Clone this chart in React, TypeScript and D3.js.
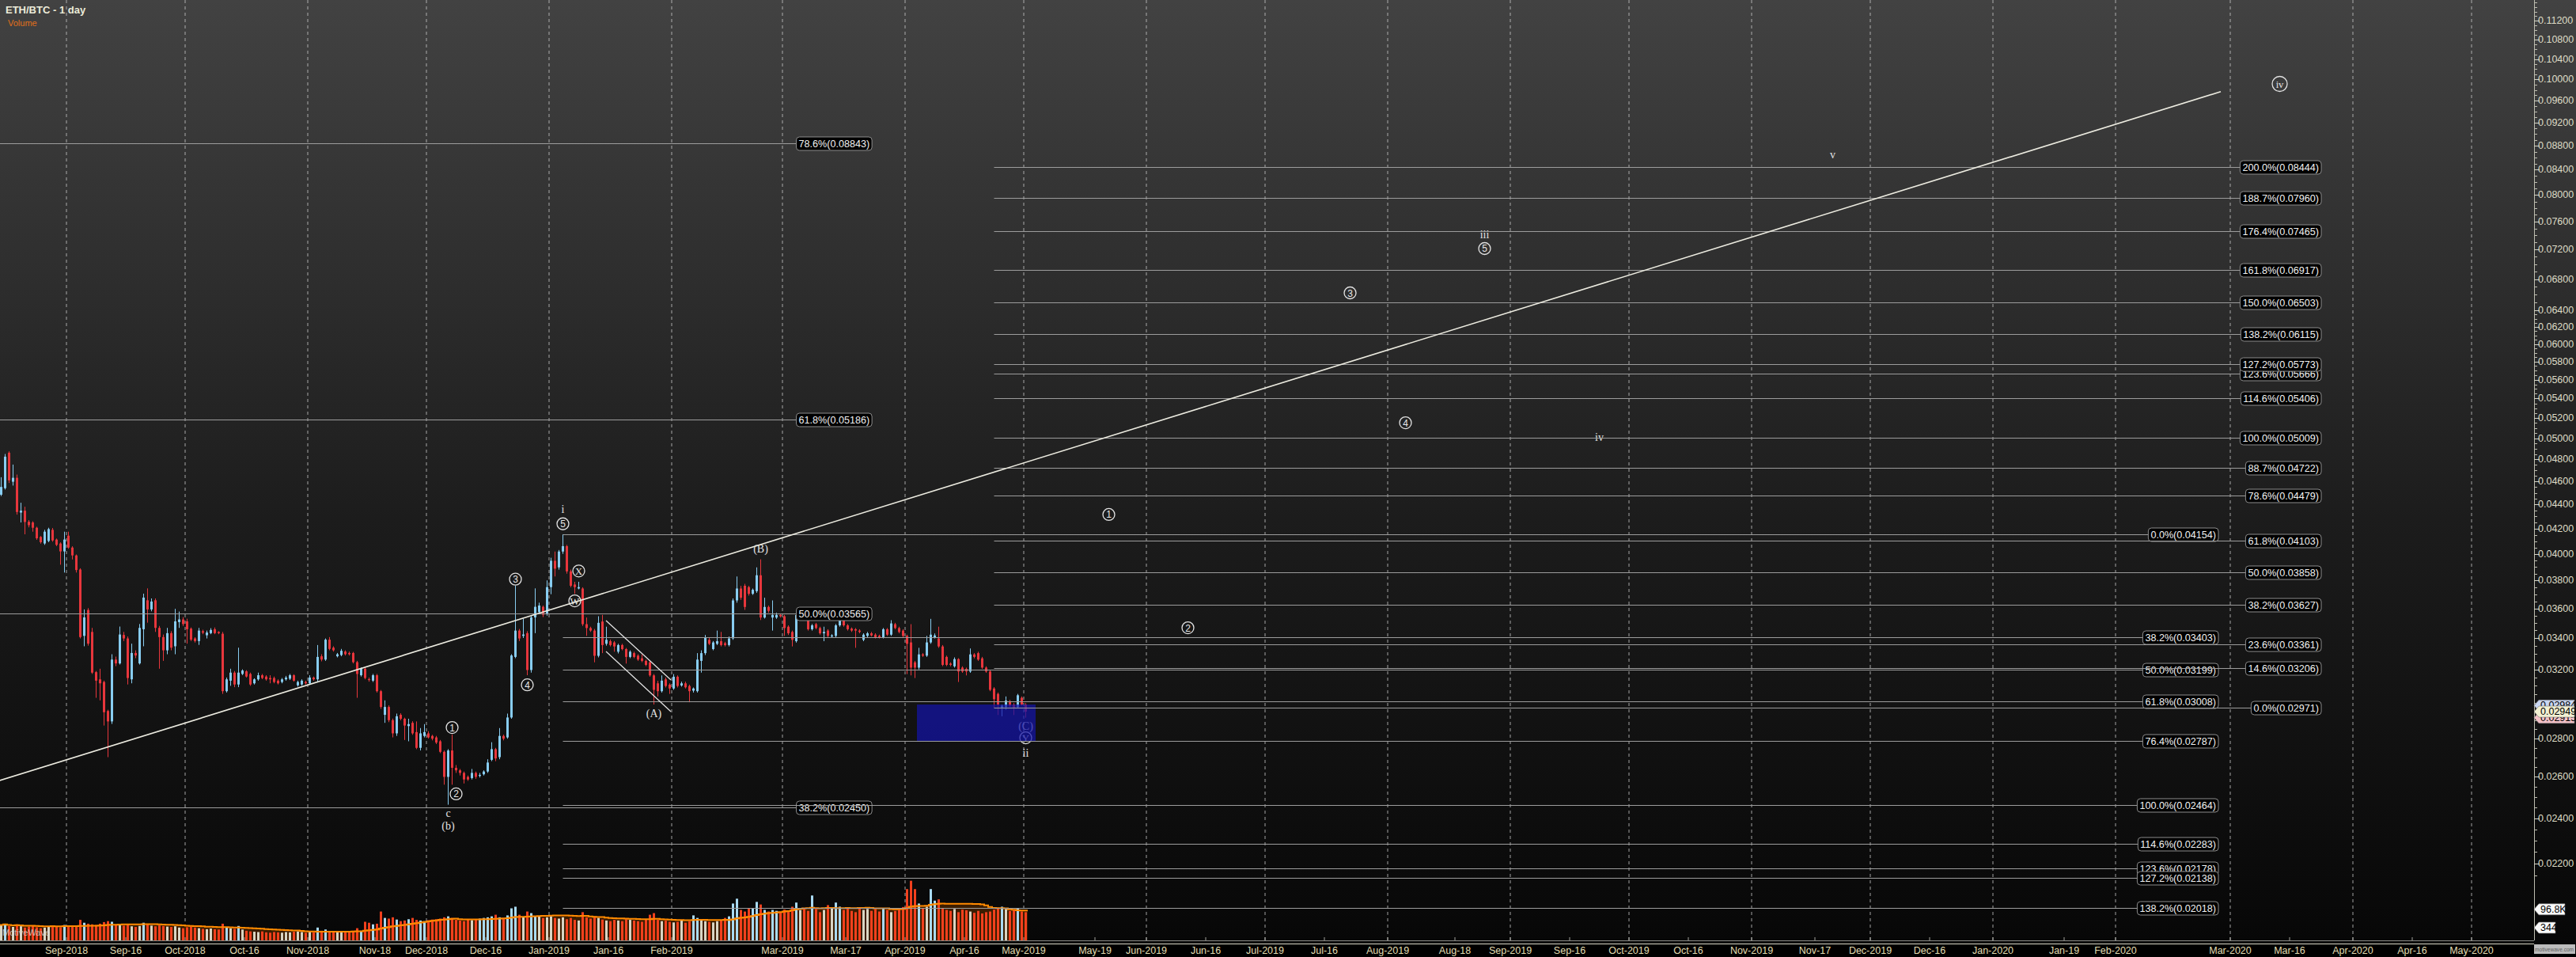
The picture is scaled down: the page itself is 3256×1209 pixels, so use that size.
import { useEffect, useRef } from "react";
import * as d3 from "d3";

// ── Frame ─────────────────────────────────────────────────────────────────────
const WIDTH = 3256;
const HEIGHT = 1209;
const PLOT_RIGHT = 3203;
const PANE_BOTTOM = 1188;
const AXIS_TOP = 1192;

const SANS = "'Liberation Sans', Arial, sans-serif";
const SERIF = "'Liberation Serif', 'Times New Roman', serif";

// ── Daily bars [open, high, low, close], first bar on FIRST_DAY ──────────────
const FIRST_DAY = "2018-08-15";

const aug2018 = [
  [.04484, .04638, .04472, .04552], [.04541, .04851, .04529, .04826], [.04863, .04876, .04587, .04610],
  [.04598, .04753, .04564, .04633], [.04633, .04662, .04315, .04337], [.04332, .04415, .04250, .04348],
  [.04348, .04381, .04154, .04254], [.04256, .04270, .04210, .04228], [.04250, .04260, .04175, .04207],
  [.04207, .04215, .04110, .04122], [.04133, .04140, .04080, .04091], [.04081, .04190, .04070, .04175],
  [.04101, .04207, .04091, .04196], [.04190, .04205, .04095, .04105], [.04112, .04120, .04060, .04070],
  [.04081, .04090, .03917, .04019], [.04019, .04175, .03858, .04112],
];
const sep2018 = [
  [.04143, .04175, .04040, .04049], [.04049, .04059, .03957, .03988], [.03988, .03995, .03858, .03877],
  [.03881, .03890, .03397, .03406], [.03414, .03593, .03346, .03538], [.03589, .03602, .03350, .03363],
  [.03440, .03467, .03172, .03180], [.03183, .03190, .03029, .03131], [.03139, .03204, .03014, .03115],
  [.03123, .03131, .02871, .02946], [.02953, .02960, .02701, .02894], [.02894, .03295, .02880, .03261],
  [.03261, .03280, .03220, .03237], [.03237, .03476, .03230, .03423], [.03420, .03440, .03380, .03397],
  [.03397, .03410, .03108, .03147], [.03139, .03363, .03115, .03303], [.03303, .03320, .03270, .03287],
  [.03237, .03493, .03230, .03467], [.03458, .03704, .03346, .03676], [.03657, .03742, .03502, .03593],
  [.03593, .03670, .03580, .03648], [.03657, .03670, .03440, .03467], [.03467, .03480, .03204, .03406],
  [.03406, .03423, .03253, .03320], [.03320, .03467, .03295, .03432], [.03432, .03445, .03320, .03337],
  [.03346, .03597, .03295, .03511], [.03506, .03578, .03467, .03524], [.03524, .03540, .03480, .03493],
];
const oct2018 = [
  [.03511, .03529, .03363, .03458], [.03462, .03470, .03380, .03389], [.03397, .03405, .03370, .03380],
  [.03380, .03467, .03355, .03449], [.03445, .03455, .03425, .03435], [.03418, .03449, .03397, .03436],
  [.03432, .03465, .03425, .03453], [.03458, .03470, .03425, .03432], [.03440, .03445, .03425, .03432],
  [.03428, .03440, .03052, .03068], [.03068, .03150, .03060, .03139], [.03131, .03204, .03100, .03180],
  [.03180, .03190, .03092, .03108], [.03108, .03337, .03092, .03180], [.03172, .03200, .03165, .03193],
  [.03188, .03195, .03150, .03156], [.03172, .03180, .03100, .03108], [.03115, .03145, .03108, .03139],
  [.03139, .03180, .03131, .03164], [.03164, .03172, .03140, .03147], [.03156, .03164, .03131, .03139],
  [.03147, .03164, .03115, .03139], [.03147, .03156, .03115, .03123], [.03131, .03139, .03108, .03115],
  [.03123, .03147, .03115, .03139], [.03139, .03160, .03131, .03150], [.03143, .03172, .03135, .03164],
  [.03164, .03170, .03125, .03131], [.03103, .03131, .03095, .03123], [.03108, .03139, .03100, .03131],
  [.03123, .03131, .03108, .03115],
];
const nov2018 = [
  [.03115, .03164, .03108, .03150], [.03150, .03156, .03131, .03139], [.03139, .03354, .03123, .03278],
  [.03282, .03295, .03250, .03261], [.03261, .03397, .03253, .03389], [.03389, .03406, .03320, .03329],
  [.03337, .03346, .03312, .03320], [.03282, .03303, .03275, .03295], [.03290, .03329, .03282, .03317],
  [.03312, .03320, .03287, .03295], [.03303, .03312, .03287, .03295], [.03303, .03310, .03237, .03245],
  [.03245, .03253, .03029, .03172], [.03164, .03212, .03156, .03204], [.03204, .03212, .03139, .03147],
  [.03140, .03150, .03125, .03135], [.03131, .03172, .03123, .03164], [.03164, .03172, .03060, .03068],
  [.03068, .03075, .02965, .02976], [.02931, .03014, .02886, .02976], [.02976, .02985, .02890, .02901],
  [.02901, .02910, .02806, .02828], [.02828, .02938, .02814, .02923], [.02931, .02940, .02900, .02909],
  [.02909, .02915, .02792, .02871], [.02868, .02909, .02785, .02879], [.02886, .02895, .02820, .02828],
  [.02835, .02894, .02743, .02750], [.02750, .02857, .02736, .02828], [.02814, .02879, .02806, .02835],
];
const dec2018 = [
  [.02828, .02840, .02800, .02806], [.02814, .02820, .02790, .02799], [.02806, .02814, .02770, .02778],
  [.02785, .02792, .02722, .02729], [.02729, .02736, .02561, .02600], [.02600, .02743, .02464, .02736],
  [.02736, .02821, .02561, .02646], [.02646, .02660, .02620, .02633], [.02633, .02640, .02607, .02620],
  [.02620, .02627, .02567, .02587], [.02600, .02607, .02580, .02587], [.02594, .02640, .02587, .02620],
  [.02620, .02627, .02590, .02600], [.02605, .02620, .02597, .02610], [.02613, .02633, .02607, .02627],
  [.02627, .02690, .02620, .02673], [.02687, .02780, .02680, .02743], [.02743, .02750, .02680, .02694],
  [.02701, .02857, .02690, .02814], [.02814, .02821, .02790, .02799], [.02806, .02938, .02799, .02916],
  [.02916, .03295, .02909, .03287], [.03278, .03761, .03270, .03449], [.03449, .03460, .03380, .03397],
  [.03414, .03529, .03400, .03423], [.03432, .03445, .03164, .03196], [.03196, .03550, .03180, .03538],
  [.03538, .03742, .03432, .03611], [.03575, .03640, .03560, .03620], [.03611, .03620, .03540, .03556],
  [.03565, .03800, .03550, .03751],
];
const jan2019 = [
  [.03751, .03970, .03700, .03947], [.03947, .04018, .03829, .03887], [.03897, .04030, .03880, .04018],
  [.04018, .04154, .04000, .04060], [.04060, .04070, .03850, .03867], [.03867, .03880, .03750, .03761],
  [.03770, .03790, .03703, .03751], [.03741, .03790, .03735, .03751], [.03741, .03750, .03480, .03492],
  [.03492, .03537, .03414, .03466], [.03466, .03475, .03440, .03449], [.03449, .03460, .03244, .03285],
  [.03285, .03546, .03275, .03501], [.03510, .03555, .03302, .03354], [.03362, .03475, .03350, .03388],
  [.03379, .03390, .03345, .03354], [.03371, .03380, .03311, .03345], [.03311, .03362, .03300, .03354],
  [.03354, .03362, .03320, .03328], [.03328, .03335, .03236, .03278], [.03278, .03320, .03270, .03311],
  [.03302, .03311, .03270, .03278], [.03286, .03295, .03253, .03261], [.03269, .03294, .03245, .03253],
  [.03253, .03261, .03220, .03228], [.03244, .03253, .03155, .03163], [.03163, .03171, .02990, .03076],
  [.03115, .03130, .03037, .03068], [.03068, .03163, .03060, .03131], [.03139, .03150, .03090, .03099],
  [.03107, .03115, .03052, .03084],
];
const feb2019 = [
  [.03084, .03171, .03076, .03155], [.03155, .03163, .03090, .03099], [.03102, .03125, .03095, .03115],
  [.03115, .03125, .03084, .03091], [.03099, .03107, .03003, .03068], [.03071, .03090, .03060, .03084],
  [.03068, .03302, .03060, .03261], [.03253, .03320, .03180, .03302], [.03302, .03420, .03290, .03405],
  [.03388, .03400, .03354, .03362], [.03328, .03380, .03320, .03371], [.03362, .03449, .03354, .03379],
  [.03379, .03440, .03345, .03354], [.03366, .03375, .03345, .03354], [.03354, .03410, .03345, .03397],
  [.03397, .03670, .03388, .03656], [.03656, .03829, .03640, .03741], [.03741, .03760, .03660, .03675],
  [.03761, .03775, .03590, .03610], [.03751, .03760, .03690, .03703], [.03703, .03741, .03695, .03732],
  [.03722, .03897, .03710, .03838], [.03838, .03958, .03520, .03537], [.03537, .03675, .03530, .03610],
  [.03610, .03620, .03570, .03583], [.03537, .03656, .03449, .03555], [.03537, .03570, .03528, .03555],
  [.03555, .03565, .03537, .03546],
];
const mar2019 = [
  [.03546, .03555, .03414, .03466], [.03475, .03484, .03420, .03431], [.03440, .03449, .03345, .03388],
  [.03379, .03565, .03370, .03555], [.03537, .03590, .03528, .03573], [.03573, .03590, .03520, .03530],
  [.03519, .03530, .03449, .03458], [.03458, .03493, .03449, .03484], [.03492, .03501, .03458, .03466],
  [.03466, .03475, .03422, .03431], [.03431, .03475, .03379, .03440], [.03449, .03458, .03405, .03414],
  [.03410, .03425, .03400, .03417], [.03414, .03493, .03405, .03484], [.03484, .03537, .03475, .03528],
  [.03523, .03530, .03475, .03484], [.03484, .03493, .03449, .03458], [.03462, .03470, .03440, .03449],
  [.03458, .03466, .03336, .03449], [.03449, .03458, .03431, .03440], [.03388, .03431, .03379, .03422],
  [.03414, .03440, .03405, .03431], [.03431, .03440, .03410, .03417], [.03422, .03431, .03397, .03405],
  [.03414, .03422, .03397, .03405], [.03405, .03466, .03397, .03458], [.03458, .03466, .03414, .03422],
  [.03422, .03519, .03414, .03497], [.03492, .03501, .03458, .03466], [.03466, .03475, .03431, .03440],
  [.03449, .03458, .03405, .03414],
];
const apr2019 = [
  [.03414, .03422, .03171, .03362], [.03371, .03492, .03163, .03211], [.03244, .03253, .03147, .03211],
  [.03211, .03336, .03200, .03294], [.03294, .03302, .03278, .03286], [.03286, .03414, .03278, .03371],
  [.03371, .03528, .03362, .03422], [.03405, .03430, .03397, .03417], [.03397, .03475, .03336, .03345],
  [.03345, .03354, .03220, .03228], [.03278, .03286, .03220, .03228], [.03236, .03244, .03219, .03228],
  [.03219, .03275, .03211, .03264], [.03264, .03270, .03123, .03187], [.03211, .03219, .03179, .03187],
  [.03203, .03211, .03163, .03187], [.03187, .03332, .03179, .03294], [.03294, .03302, .03269, .03278],
  [.03302, .03311, .03253, .03261], [.03269, .03278, .03203, .03211], [.03211, .03219, .03179, .03187],
  [.03187, .03195, .03068, .03076], [.03084, .03092, .02971, .03021], [.03052, .03060, .02930, .02990],
  [.02968, .02990, .02923, .02983], [.02975, .03037, .02960, .03013], [.03009, .03017, .02975, .02983],
  [.02990, .02998, .02930, .02968], [.02975, .03052, .02968, .03044], [.03029, .03037, .02983, .02990],
];
const may2019 = [
  [.02990, .02998, .02915, .02949],
];

// daily volume, thousands
const volumeK = [
  48, 52, 45, 42, 50, 44, 40, 43, 46, 41, 38, 40, 44, 47, 42, 41, 48, 45, 43, 46,
  64, 55, 52, 50, 48, 52, 57, 60, 58, 50, 48, 46, 50, 44, 42, 45, 55, 50, 46, 44,
  47, 45, 43, 42, 44, 40, 38, 41, 43, 40, 38, 36, 35, 37, 35, 34, 52, 42, 38, 36,
  45, 34, 30, 28, 27, 26, 28, 25, 24, 26, 25, 24, 26, 25, 27, 28, 26, 24, 27, 25,
  40, 30, 34, 28, 27, 26, 25, 28, 27, 30, 38, 30, 58, 55, 50, 52, 90, 70, 68, 72,
  65, 60, 62, 66, 70, 64, 62, 60, 63, 65, 66, 68, 72, 75, 70, 64, 62, 60, 66, 63,
  65, 68, 70, 72, 75, 80, 72, 70, 78, 100, 105, 80, 72, 90, 85, 76, 74, 70, 72, 75,
  70, 68, 72, 66, 70, 64, 62, 88, 72, 68, 75, 70, 65, 62, 60, 64, 62, 60, 66, 64,
  62, 60, 58, 65, 80, 85, 64, 60, 62, 58, 56, 58, 62, 55, 60, 78, 70, 64, 60, 58,
  56, 60, 62, 70, 75, 115, 130, 95, 90, 100, 100, 120, 112, 95, 90, 95, 92, 88, 96, 90,
  105, 118, 95, 100, 92, 140, 98, 88, 95, 110, 100, 118, 105, 95, 100, 92, 88, 102, 95, 98,
  92, 98, 90, 100, 95, 88, 92, 96, 104, 160, 186, 160, 115, 100, 105, 160, 124, 128, 100, 95,
  92, 98, 88, 96, 94, 90, 86, 92, 84, 88, 90, 96, 102, 105, 98, 92, 94, 100, 90, 88,
];
const VOLUME_MA = 20;

// ── Axis values ───────────────────────────────────────────────────────────────
const priceTicks = [
  0.112, 0.108, 0.104, 0.1, 0.096, 0.092, 0.088, 0.084, 0.08, 0.076, 0.072, 0.068, 0.064,
  0.062, 0.06, 0.058, 0.056, 0.054, 0.052, 0.05, 0.048, 0.046, 0.044, 0.042, 0.04, 0.038,
  0.036, 0.034, 0.032, 0.028, 0.026, 0.024, 0.022,
];
const midMonthTicks = [
  "2018-09-16", "2018-10-16", "2018-11-18", "2018-12-16", "2019-01-16", "2019-03-17",
  "2019-04-16", "2019-05-19", "2019-06-16", "2019-07-16", "2019-08-18", "2019-09-16",
  "2019-10-16", "2019-11-17", "2019-12-16", "2020-01-19", "2020-03-16", "2020-04-16",
];
const lastTags = [
  { v: 0.02984, fill: "#c9d6f2" },
  { v: 0.02915, fill: "#f4c2c8" },
  { v: 0.02949, fill: "#f2f0d2" },
];

// ── Fibonacci sets: [label, price] ───────────────────────────────────────────
const fibA = [["78.6%", 0.08843], ["61.8%", 0.05186], ["50.0%", 0.03565], ["38.2%", 0.0245]];
const fibARange = ["2018-07-20T00:00:00Z", "2019-03-23T15:00:00Z"];
const fibB = [
  ["0.0%", 0.04154], ["38.2%", 0.03403], ["50.0%", 0.03199], ["61.8%", 0.03008], ["76.4%", 0.02787],
  ["100.0%", 0.02464], ["114.6%", 0.02283], ["123.6%", 0.02178], ["127.2%", 0.02138], ["138.2%", 0.02018],
];
const fibBRange = ["2019-01-04T12:00:00Z", "2020-02-27T00:00:00Z"];
const fibC = [
  ["0.0%", 0.02971], ["14.6%", 0.03206], ["23.6%", 0.03361], ["38.2%", 0.03627], ["50.0%", 0.03858],
  ["61.8%", 0.04103], ["78.6%", 0.04479], ["88.7%", 0.04722], ["100.0%", 0.05009], ["114.6%", 0.05406],
  ["123.6%", 0.05666], ["127.2%", 0.05773], ["138.2%", 0.06115], ["150.0%", 0.06503], ["161.8%", 0.06917],
  ["176.4%", 0.07465], ["188.7%", 0.0796], ["200.0%", 0.08444],
];
const fibCRange = ["2019-04-23T12:00:00Z", "2020-03-24T00:00:00Z"];

// ── Drawn objects ─────────────────────────────────────────────────────────────
const trendLine = [["2018-08-15T00:00:00Z", 0.02581], ["2020-02-27T14:24:00Z", 0.09768]];
const channelLines = [
  [["2019-01-15T09:36:00Z", 0.03516], ["2019-01-31T19:12:00Z", 0.03135]],
  [["2019-01-15T09:36:00Z", 0.03313], ["2019-01-31T19:12:00Z", 0.02949]],
];
const targetBox = { from: "2019-04-04T00:00:00Z", to: "2019-05-04T00:00:00Z", hi: 0.0299, lo: 0.02787 };

// wave labels: date (noon), price, text, circled?
const waveLabels: [string, number, string, boolean][] = [
  ["2018-12-06", 0.02425, "c", false],
  ["2018-12-06", 0.02366, "(b)", false],
  ["2018-12-08", 0.02516, "2", true],
  ["2018-12-07", 0.0286, "1", true],
  ["2018-12-23", 0.03809, "3", true],
  ["2018-12-26", 0.03106, "4", true],
  ["2019-01-04", 0.04239, "5", true],
  ["2019-01-04", 0.04362, "i", false],
  ["2019-01-08", 0.0387, "X", true],
  ["2019-01-07", 0.03653, "W", true],
  ["2019-01-27", 0.02937, "(A)", false],
  ["2019-02-23", 0.04039, "(B)", false],
  ["2019-05-01", 0.02866, "(C)", false],
  ["2019-05-01", 0.02804, "Y", true],
  ["2019-05-01", 0.02721, "ii", false],
  ["2019-05-22", 0.04316, "1", true],
  ["2019-06-11", 0.03468, "2", true],
  ["2019-07-22", 0.06622, "3", true],
  ["2019-08-05", 0.05153, "4", true],
  ["2019-08-25", 0.07404, "iii", false],
  ["2019-08-25", 0.07214, "5", true],
  ["2019-09-23", 0.05013, "iv", false],
  ["2019-11-21", 0.08653, "v", false],
  ["2020-03-13", 0.09915, "iv", true],
];

const candles = [
  ...aug2018, ...sep2018, ...oct2018, ...nov2018, ...dec2018,
  ...jan2019, ...feb2019, ...mar2019, ...apr2019, ...may2019,
];

export default function App() {
  const svgRef = useRef<SVGSVGElement>(null);

  useEffect(() => {
    document.body.style.margin = "0";
    document.body.style.background = "#000";
    if (!svgRef.current) return;

    const svg = d3.select(svgRef.current);
    svg.selectAll("*").remove();

    const x = d3.scaleUtc()
      .domain([new Date(Date.UTC(2018, 8, 1)), new Date(Date.UTC(2020, 4, 1))])
      .range([84, 3124]);
    const y = d3.scaleLog().domain([0.112, 0.022]).range([26.3, 1090.7]);
    const yv = d3.scaleLinear().domain([0, 200]).range([PANE_BOTTOM, 1107]);

    const day0 = new Date(FIRST_DAY + "T00:00:00Z");
    const cx = (i: number) => x(d3.utcDay.offset(day0, i)) + 2.5;
    const noon = (s: string) => x(new Date(s + "T12:00:00Z"));
    const at = (s: string) => x(new Date(s));

    // ── Background ──────────────────────────────────────────────────
    const defs = svg.append("defs");
    const grad = defs.append("linearGradient")
      .attr("id", "bg").attr("x1", 0).attr("y1", 0).attr("x2", 0).attr("y2", 1);
    grad.append("stop").attr("offset", 0).attr("stop-color", "#424242");
    grad.append("stop").attr("offset", 0.55).attr("stop-color", "#1c1c1c");
    grad.append("stop").attr("offset", 1).attr("stop-color", "#070707");
    defs.append("clipPath").attr("id", "plot")
      .append("rect").attr("x", 0).attr("y", 0).attr("width", PLOT_RIGHT).attr("height", PANE_BOTTOM);

    svg.append("rect").attr("width", WIDTH).attr("height", HEIGHT).attr("fill", "#000");
    svg.append("rect").attr("width", WIDTH).attr("height", AXIS_TOP).attr("fill", "url(#bg)");

    const plot = svg.append("g").attr("clip-path", "url(#plot)");

    // ── Month grid (dashed) ─────────────────────────────────────────
    const months = d3.utcMonth.range(new Date(Date.UTC(2018, 8, 1)), new Date(Date.UTC(2020, 5, 1)));
    plot.selectAll("line.grid").data(months).join("line")
      .attr("x1", (d) => x(d)).attr("x2", (d) => x(d))
      .attr("y1", 0).attr("y2", PANE_BOTTOM)
      .attr("stroke", "#c8c8c8").attr("stroke-opacity", 0.8)
      .attr("stroke-width", 1).attr("stroke-dasharray", "4 4");

    // ── Volume ──────────────────────────────────────────────────────
    const ma = volumeK.map((_, i) => d3.mean(volumeK.slice(Math.max(0, i - VOLUME_MA + 1), i + 1)) ?? 0);
    const maPts = ma.map((v, i) => [cx(i) - 2.5, v] as [number, number]);
    maPts.push([cx(ma.length - 1) + 2.5, ma[ma.length - 1]]);
    plot.append("path").datum(maPts)
      .attr("fill", "#3c1d00")
      .attr("d", d3.area<[number, number]>().x((d) => d[0]).y0(PANE_BOTTOM).y1((d) => yv(d[1])).curve(d3.curveStepAfter));
    plot.selectAll("rect.vol").data(volumeK).join("rect")
      .attr("x", (_, i) => cx(i) - 1.5).attr("width", 3)
      .attr("y", (d) => yv(d)).attr("height", (d) => PANE_BOTTOM - yv(d))
      .attr("fill", (d, i) => {
        const [o, , , c] = candles[i];
        if (c < o) return "#f2401d";
        return d > ma[i] ? "#a9daf2" : "#d9d5c4";
      });
    plot.append("path").datum(maPts)
      .attr("fill", "none").attr("stroke", "#ff8a00").attr("stroke-width", 2)
      .attr("d", d3.line<[number, number]>().x((d) => d[0]).y((d) => yv(d[1])).curve(d3.curveStepAfter));

    // ── Candles ─────────────────────────────────────────────────────
    const cg = plot.append("g");
    candles.forEach(([o, h, l, c], i) => {
      const col = c >= o ? "#88cdf1" : "#e8363c";
      const xc = cx(i);
      cg.append("line")
        .attr("x1", xc).attr("x2", xc).attr("y1", y(h)).attr("y2", y(l))
        .attr("stroke", col).attr("stroke-width", 1);
      const top = y(Math.max(o, c));
      cg.append("rect")
        .attr("x", xc - 1.5).attr("width", 3)
        .attr("y", top).attr("height", Math.max(1, y(Math.min(o, c)) - top))
        .attr("fill", col);
    });

    // ── Wave labels ─────────────────────────────────────────────────
    const lg = plot.append("g");
    waveLabels.forEach(([d, p, t, circled]) => {
      const lx = noon(d);
      const ly = y(p);
      if (circled) {
        const r = t === "iv" ? 9.5 : 7.5;
        lg.append("circle").attr("cx", lx).attr("cy", ly).attr("r", r)
          .attr("fill", "none").attr("stroke", "#e2e2e2").attr("stroke-width", 1.3);
        lg.append("text").attr("x", lx).attr("y", ly + 0.5)
          .attr("text-anchor", "middle").attr("dominant-baseline", "central")
          .attr("font-family", /[0-9]/.test(t) ? SANS : SERIF)
          .attr("font-size", /[0-9]/.test(t) ? 12 : 12.5)
          .attr("fill", "#e6e6e6").text(t);
      } else {
        lg.append("text").attr("x", lx).attr("y", ly)
          .attr("text-anchor", "middle").attr("dominant-baseline", "central")
          .attr("font-family", SERIF).attr("font-size", 14)
          .attr("fill", "#e2e2e2").text(t);
      }
    });

    // ── Target box ──────────────────────────────────────────────────
    plot.append("rect")
      .attr("x", at(targetBox.from)).attr("width", at(targetBox.to) - at(targetBox.from))
      .attr("y", y(targetBox.hi)).attr("height", y(targetBox.lo) - y(targetBox.hi))
      .attr("fill", "#1414a8").attr("fill-opacity", 0.72);

    // ── Fibonacci levels ────────────────────────────────────────────
    const fibSet = (levels: (string | number)[][], range: string[]) => {
      const g = plot.append("g");
      const x0 = Math.max(0, at(range[0]));
      const x1 = at(range[1]);
      levels.forEach(([pct, v]) => {
        const ly = Math.round(y(v as number)) + 0.5;
        g.append("line").attr("x1", x0).attr("x2", x1).attr("y1", ly).attr("y2", ly)
          .attr("stroke", "#9c9c9c").attr("stroke-width", 1.2);
        const box = g.append("g");
        const txt = box.append("text")
          .attr("x", x1 - 3).attr("y", ly).attr("text-anchor", "end")
          .attr("dominant-baseline", "central")
          .attr("font-family", SANS).attr("font-size", 12.6).attr("fill", "#f2f2f2")
          .text(`${pct}(${(v as number).toFixed(5)})`);
        const w = (txt.node() as SVGTextElement).getComputedTextLength();
        box.insert("rect", "text")
          .attr("x", x1 - w - 6).attr("y", ly - 8.5).attr("width", w + 6).attr("height", 17)
          .attr("rx", 4).attr("fill", "#000").attr("stroke", "#8c8c8c").attr("stroke-width", 1);
      });
    };
    fibSet(fibA, fibARange);
    fibSet(fibB, fibBRange);
    fibSet(fibC, fibCRange);

    // ── Trend line and channel ──────────────────────────────────────
    plot.append("line")
      .attr("x1", at(trendLine[0][0] as string)).attr("y1", y(trendLine[0][1] as number))
      .attr("x2", at(trendLine[1][0] as string)).attr("y2", y(trendLine[1][1] as number))
      .attr("stroke", "#ecebe0").attr("stroke-width", 1.6);
    channelLines.forEach(([a, b]) => {
      plot.append("line")
        .attr("x1", at(a[0] as string)).attr("y1", y(a[1] as number))
        .attr("x2", at(b[0] as string)).attr("y2", y(b[1] as number))
        .attr("stroke", "#e6e6e6").attr("stroke-width", 1.2);
    });

    // ── Right price axis ────────────────────────────────────────────
    const ax = svg.append("g");
    ax.append("line").attr("x1", PLOT_RIGHT + 0.5).attr("x2", PLOT_RIGHT + 0.5)
      .attr("y1", 0).attr("y2", PANE_BOTTOM).attr("stroke", "#bdbdb0");
    const minor = [
      ...d3.range(0.0215, 0.064, 0.0005),
      ...d3.range(0.064, 0.1165, 0.001),
    ];
    ax.selectAll("line.minor").data(minor).join("line")
      .attr("x1", PLOT_RIGHT).attr("x2", PLOT_RIGHT + 4)
      .attr("y1", (d) => Math.round(y(d)) + 0.5).attr("y2", (d) => Math.round(y(d)) + 0.5)
      .attr("stroke", "#bdbdb0");
    ax.selectAll("line.major").data(priceTicks).join("line")
      .attr("x1", PLOT_RIGHT).attr("x2", PLOT_RIGHT + 7)
      .attr("y1", (d) => Math.round(y(d)) + 0.5).attr("y2", (d) => Math.round(y(d)) + 0.5)
      .attr("stroke", "#d4d4c4");
    ax.selectAll("text.tick").data(priceTicks).join("text")
      .attr("x", PLOT_RIGHT + 5).attr("y", (d) => y(d))
      .attr("dominant-baseline", "central")
      .attr("font-family", SANS).attr("font-size", 12.5).attr("fill", "#dedcc6")
      .text((d) => d.toFixed(5));

    // last-price tags
    const tag = (cy: number, fill: string, label: string, w: number) => {
      ax.append("path")
        .attr("d", `M${PLOT_RIGHT},${cy} L${PLOT_RIGHT + 6},${cy - 7} L${PLOT_RIGHT + 6 + w},${cy - 7} L${PLOT_RIGHT + 6 + w},${cy + 7} L${PLOT_RIGHT + 6},${cy + 7} Z`)
        .attr("fill", fill).attr("stroke", "#777").attr("stroke-width", 0.6);
      ax.append("text").attr("x", PLOT_RIGHT + 8).attr("y", cy)
        .attr("dominant-baseline", "central")
        .attr("font-family", SANS).attr("font-size", 12.5).attr("fill", "#000").text(label);
    };
    lastTags.forEach((t) => tag(y(t.v), t.fill, t.v.toFixed(5), 45));
    const lastVol = 96.8;
    tag(yv(lastVol), "#fafafa", `${lastVol}K`, 33);
    tag(1172, "#fafafa", "344", 21);

    // ── Bottom time axis ────────────────────────────────────────────
    const bx = svg.append("g");
    bx.append("line").attr("x1", 0).attr("x2", PLOT_RIGHT).attr("y1", PANE_BOTTOM + 0.5).attr("y2", PANE_BOTTOM + 0.5)
      .attr("stroke", "#8a8a86");
    bx.append("line").attr("x1", 0).attr("x2", PLOT_RIGHT).attr("y1", AXIS_TOP + 0.5).attr("y2", AXIS_TOP + 0.5)
      .attr("stroke", "#d8d6c6");
    const mids = midMonthTicks.map((s) => new Date(s + "T00:00:00Z"));
    const shownMonths = months.filter((d) => x(d) < PLOT_RIGHT - 20);
    const allTicks = [...shownMonths, ...mids];
    bx.selectAll("line.xt").data(allTicks).join("line")
      .attr("x1", (d) => x(d)).attr("x2", (d) => x(d))
      .attr("y1", PANE_BOTTOM - 4).attr("y2", PANE_BOTTOM)
      .attr("stroke", "#a0a09a");
    const fmtMonth = d3.utcFormat("%b-%Y");
    const fmtDay = d3.utcFormat("%b-%d");
    bx.selectAll("text.xm").data(shownMonths).join("text")
      .attr("x", (d) => x(d)).attr("y", 1201)
      .attr("text-anchor", "middle").attr("dominant-baseline", "central")
      .attr("font-family", SANS).attr("font-size", 12.5).attr("fill", "#e2ddb2")
      .text((d) => fmtMonth(d));
    bx.selectAll("text.xd").data(mids).join("text")
      .attr("x", (d) => x(d)).attr("y", 1201)
      .attr("text-anchor", "middle").attr("dominant-baseline", "central")
      .attr("font-family", SANS).attr("font-size", 12.5).attr("fill", "#e2ddb2")
      .text((d) => fmtDay(d));

    // ── Titles and watermarks ───────────────────────────────────────
    svg.append("text").attr("x", 7).attr("y", 17)
      .attr("font-family", SANS).attr("font-size", 13).attr("font-weight", "bold")
      .attr("fill", "#ecebd9").text("ETH/BTC - 1 day");
    svg.append("text").attr("x", 10).attr("y", 33)
      .attr("font-family", SANS).attr("font-size", 11).attr("fill", "#e0701a").text("Volume");
    svg.append("text").attr("x", 3).attr("y", 1182)
      .attr("font-family", SANS).attr("font-size", 11).attr("fill", "#dcdcdc").attr("fill-opacity", 0.8)
      .text("MotiveWave");
    svg.append("rect").attr("x", 3203).attr("y", 1193).attr("width", 52).attr("height", 12).attr("fill", "#bcbcbc");
    svg.append("text").attr("x", 3204).attr("y", 1199.5)
      .attr("dominant-baseline", "central")
      .attr("font-family", SANS).attr("font-size", 6.6).attr("fill", "#5e5e5e").text("motivewave.com");
  }, []);

  return (
    <svg
      ref={svgRef}
      width={WIDTH}
      height={HEIGHT}
      style={{ display: "block", position: "absolute", left: 0, top: 0 }}
    />
  );
}
